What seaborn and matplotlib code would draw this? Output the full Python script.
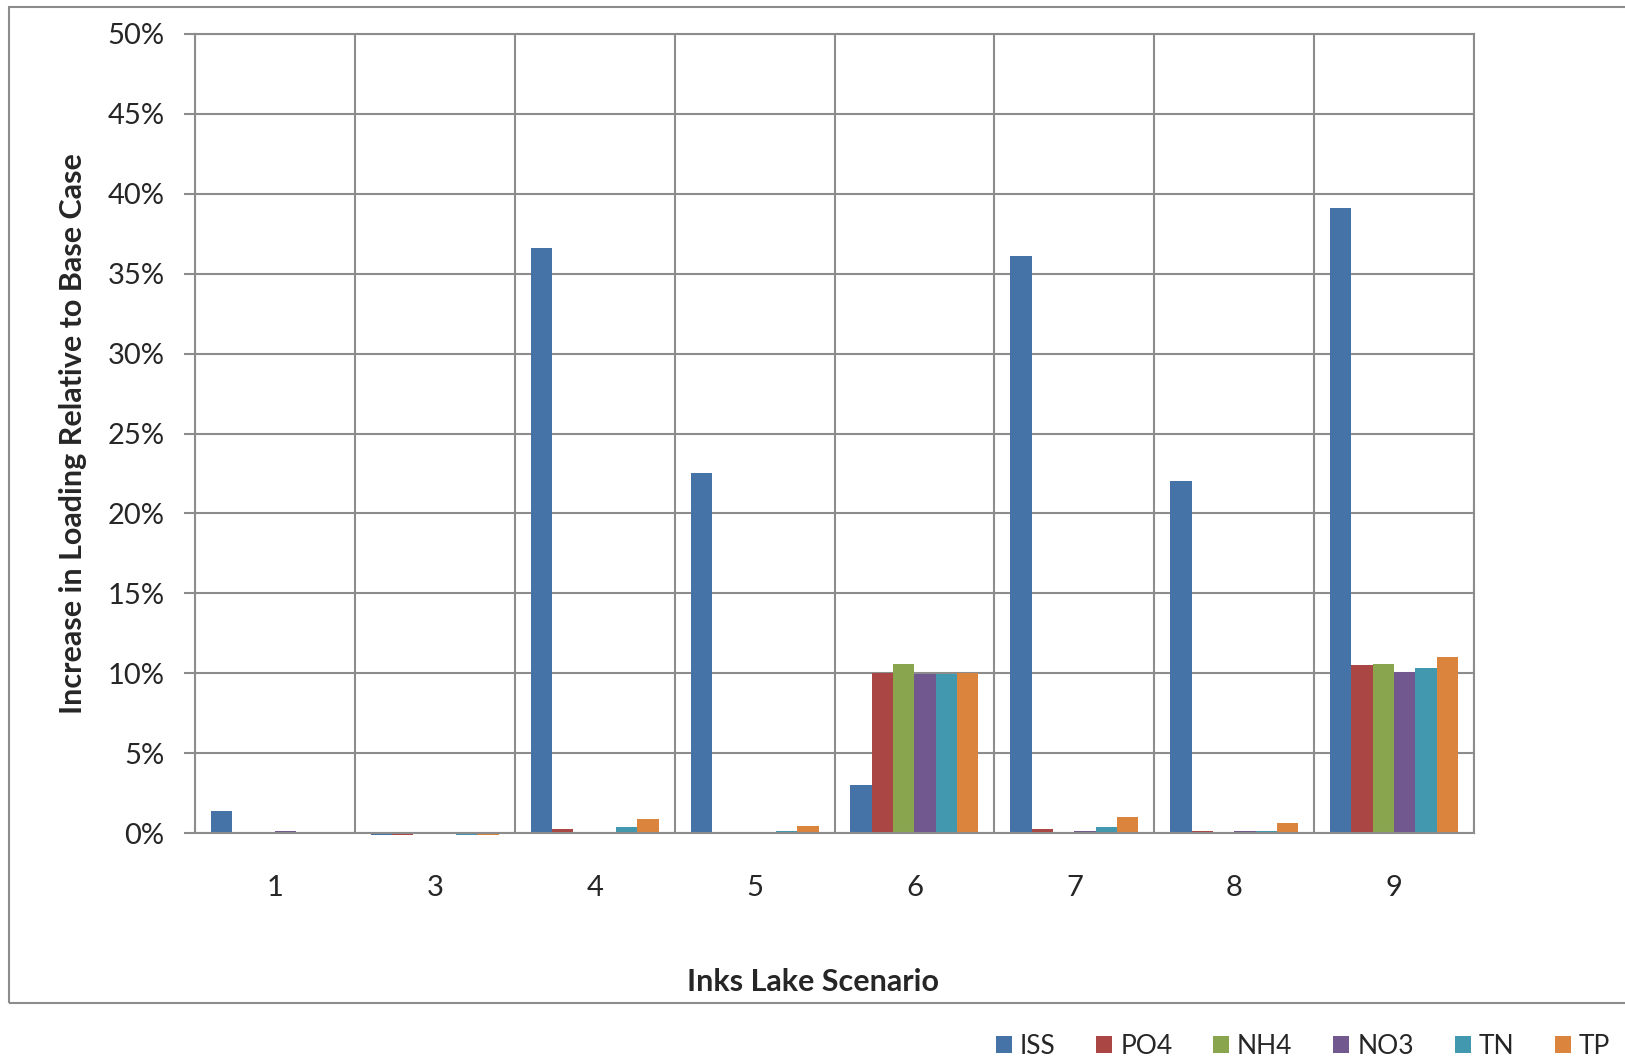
import numpy as np
import pandas as pd
import matplotlib
matplotlib.use('Agg')
import matplotlib.pyplot as plt
from matplotlib.patches import Rectangle
from matplotlib.ticker import FuncFormatter, FixedLocator
import seaborn as sns

# data (percent increase vs base case)
scenarios = ['1', '3', '4', '5', '6', '7', '8', '9']
iss = [1.35, -0.1, 36.6, 22.5, 3.0, 36.1, 22.05, 39.1]
po4 = [0.0, -0.1, 0.25, 0.0, 10.0, 0.25, 0.15, 10.5]
nh4 = [0.0, 0.0, 0.0, 0.0, 10.6, 0.0, 0.0, 10.6]
no3 = [0.15, -0.02, -0.02, -0.02, 9.95, 0.12, 0.15, 10.1]
tn = [0.0, -0.1, 0.35, 0.15, 9.95, 0.35, 0.15, 10.35]
tp = [0.0, -0.1, 0.9, 0.45, 10.0, 1.0, 0.6, 11.0]

series = ['ISS', 'PO4', 'NH4', 'NO3', 'TN', 'TP']
colors = ['#4572A7', '#AA4643', '#89A54E', '#71588F', '#4198AF', '#DB843D']

df = pd.DataFrame({'scenario': scenarios, 'ISS': iss, 'PO4': po4, 'NH4': nh4,
                   'NO3': no3, 'TN': tn, 'TP': tp})
long_df = df.melt(id_vars='scenario', var_name='param', value_name='value')

sns.set_style('white')
plt.rcParams['font.family'] = ['Lato', 'DejaVu Sans']

W, H = 1625, 1061
fig = plt.figure(figsize=(W / 100, H / 100), dpi=100)

# plot area in pixel coords
left, right, top, bottom = 195, 1474, 34, 833
ax = fig.add_axes([left / W, 1 - bottom / H, (right - left) / W, (bottom - top) / H])

sns.barplot(data=long_df, x='scenario', y='value', hue='param', order=scenarios,
            hue_order=series, palette=colors, saturation=1, width=0.8,
            linewidth=0, ax=ax)
for p in ax.patches:
    p.set_clip_on(False)

grid_c = '#8C8C8C'
ax.set_ylim(0, 50)
ax.set_xlim(-0.5, len(scenarios) - 0.5)
ax.set_yticks(np.arange(0, 51, 5))
ax.yaxis.set_major_formatter(FuncFormatter(lambda v, _: f'{v:.0f}%'))
ax.yaxis.grid(True, color=grid_c, linewidth=1.5)
ax.xaxis.set_minor_locator(FixedLocator(np.arange(-0.5, len(scenarios), 1.0)))
ax.xaxis.grid(True, which='minor', color=grid_c, linewidth=1.5)
ax.set_axisbelow(True)

ax.tick_params(axis='x', which='major', length=0, pad=30, labelsize=21)
ax.tick_params(axis='x', which='minor', length=8, width=1.5, color=grid_c, direction='out')
ax.tick_params(axis='y', length=8, width=1.5, color=grid_c, direction='out',
               pad=14, labelsize=21, left=True)

for s in ax.spines.values():
    s.set_color(grid_c)
    s.set_linewidth(1.5)

ax.set_ylabel('Increase in Loading Relative to Base Case', fontsize=22, fontweight='bold')
ax.yaxis.set_label_coords((87 - left) / (right - left), 0.5)
ax.set_xlabel('Inks Lake Scenario', fontsize=22, fontweight='bold')
ax.xaxis.set_label_coords((813 - left) / (right - left), (bottom - 968) / (bottom - top))

# chart area border
fig.patches.append(Rectangle((9 / W, 1 - 1003 / H), 1.2, (1003 - 7) / H,
                             transform=fig.transFigure, fill=False,
                             edgecolor='#8C8C8C', linewidth=1.5))

handles, labels = ax.get_legend_handles_labels()
ax.legend_.remove()
fig.legend(handles, labels, loc='center', bbox_to_anchor=(1303 / W, 1 - 1046 / H),
           ncol=6, frameon=False, fontsize=19, handlelength=0.6, handleheight=0.6,
           handletextpad=0.3, columnspacing=1.55, borderpad=0.2)

fig.savefig('out.png', dpi=100)
